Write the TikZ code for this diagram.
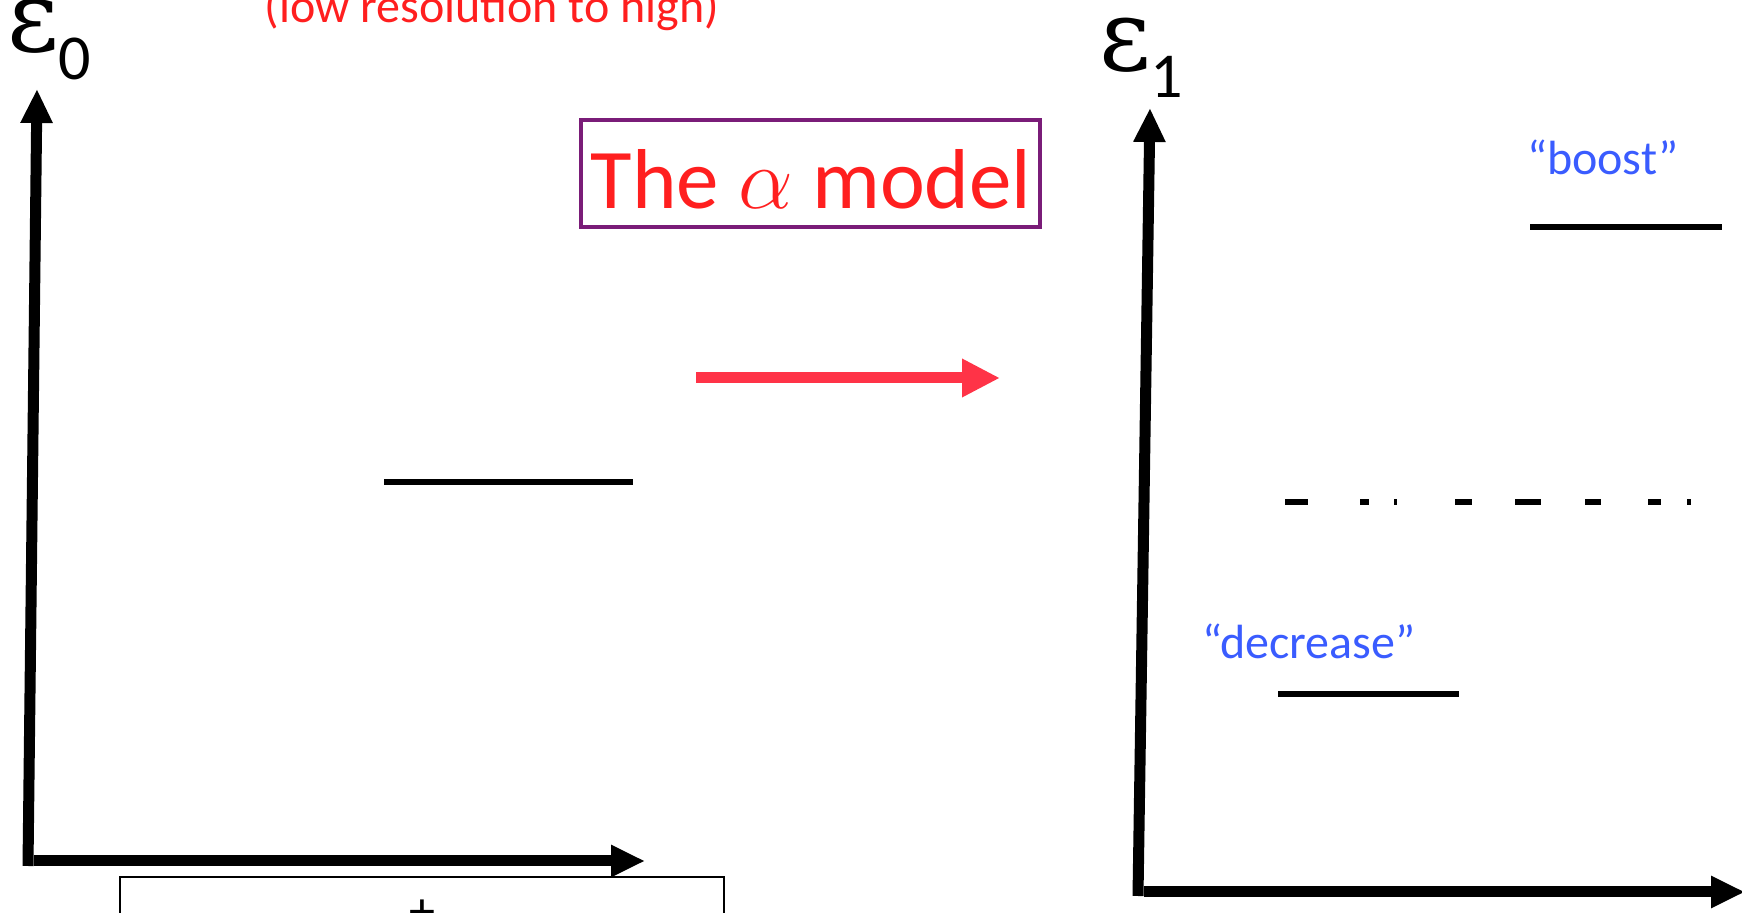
\documentclass[tikz,border=0pt]{standalone}
\usepackage{amsmath,amssymb}
\usepackage{fontspec}
\setmainfont{Carlito}
\newfontfamily\greekserif{DejaVu Serif}
\usepackage{tikz}
\usetikzlibrary{arrows.meta}
\definecolor{titleRed}{HTML}{FF1F1F}
\definecolor{arrowRed}{HTML}{FF3347}
\definecolor{boxPurple}{HTML}{7A1C78}
\definecolor{noteBlue}{HTML}{3A5CFF}
\newcommand{\bigmath}[2]{\scalebox{#1}{\fontsize{24.88}{30}\selectfont$#2$}}
\newcommand{\epslabel}[2]{{\fontsize{50}{54}\greekserif\selectfont ε}\raisebox{-#2}{\fontsize{32}{36}\selectfont #1}}

\begin{document}
\begin{tikzpicture}[
    x=0.5pt, y=-0.5pt,
    every node/.style={inner sep=0pt, outer sep=0pt},
    axis/.style={line width=5.5pt, -{Triangle[length=17pt, width=15pt]}},
    level/.style={line width=2.75pt},
    note/.style={text=noteBlue, font=\fontsize{24}{28}\selectfont, anchor=base}
]
\useasboundingbox (0,0) rectangle (1742,913);

% left panel
\coordinate (o0) at (28, 866);
\coordinate (y0) at (37, 89);
\coordinate (s0) at (34, 861);
\coordinate (x0) at (645, 861);
\draw[axis] (o0) -- (y0);
\draw[axis] (s0) -- (x0);
\node[anchor=base west] (e0) at (7, 52) {\epslabel{0}{14pt}};
\node[anchor=base, text=titleRed, font=\fontsize{24}{28}\selectfont] (res) at (492, 23) {(low resolution to high)};
\draw[level] (384, 482) -- (633, 482);
\draw[line width=1pt] (120, 877) rectangle (724, 960);
\node[anchor=north, font=\fontsize{26}{30}\selectfont] (pm) at (422, 900) {+};

% middle
\node[draw=boxPurple, line width=2.2pt, minimum width=229.5pt, minimum height=53.5pt] (box) at (810.5, 173.5) {};
\node[anchor=base, text=titleRed, font=\fontsize{42.5}{50}\selectfont] (title) at (811, 209) {The \bigmath{1.75}{\alpha} model};
\coordinate (a0) at (696, 378);
\coordinate (a1) at (1000, 378);
\draw[arrowRed, line width=5.5pt, -{Triangle[length=19pt, width=18pt]}] (a0) -- (a1);

% right panel
\coordinate (o1) at (1138, 896);
\coordinate (y1) at (1150, 108);
\coordinate (s1) at (1144, 892);
\coordinate (x1) at (1745, 892);
\draw[axis] (o1) -- (y1);
\draw[axis] (s1) -- (x1);
\node[anchor=base west] (e1) at (1099, 71) {\epslabel{1}{13.5pt}};
\node[note] (boost) at (1603, 175) {“boost”};
\draw[level] (1530, 227) -- (1722, 227);
\foreach \a/\b in {1285/1308, 1360/1369, 1394/1397, 1455/1472, 1515/1541, 1585/1601, 1648/1661, 1687/1691}
    \draw[line width=3pt] (\a, 502) -- (\b, 502);
\node[note] (decr) at (1309, 659) {“decrease”};
\draw[level] (1278, 694) -- (1459, 694);
\end{tikzpicture}
\end{document}
